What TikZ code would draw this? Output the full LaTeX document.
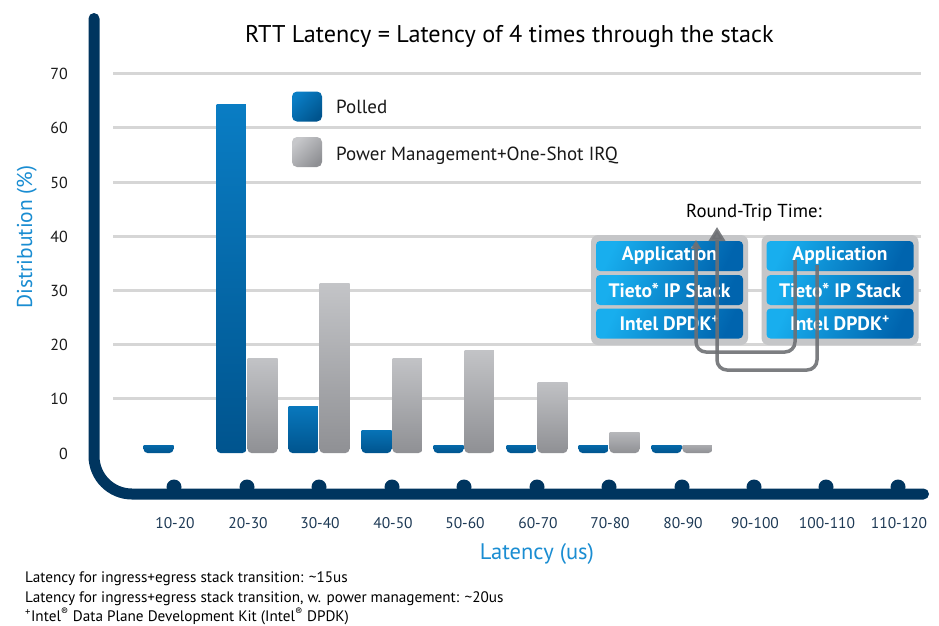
\documentclass[tikz,border=0pt]{standalone}
\usepackage{fontspec}
\setmainfont{PT Sans}
\usetikzlibrary{arrows.meta}
\definecolor{navy}{HTML}{00355F}
\definecolor{gridc}{HTML}{D6D6D6}
\definecolor{pbtop}{HTML}{0A7EC5}
\definecolor{pbbot}{HTML}{00548E}
\definecolor{gbtop}{HTML}{C6C7CA}
\definecolor{gbbot}{HTML}{8F9094}
\definecolor{lblue}{HTML}{1A8DD2}
\definecolor{xlabc}{HTML}{1E3A56}
\definecolor{numc}{HTML}{1A1A1A}
\definecolor{sbox}{HTML}{C5C6C8}
\definecolor{stop}{HTML}{18AEEE}
\definecolor{sbot}{HTML}{0064AE}
\definecolor{arrc}{HTML}{6E7074}
\newcommand\polledbar[2]{%
  \begin{scope}
    \clip (#1-30.5,#2) rectangle (#1-0.5,454);
    \shade[top color=pbtop,bottom color=pbbot,rounded corners=4pt] (#1-30.5,#2-8) rectangle (#1-0.5,453);
  \end{scope}}
\newcommand\graybar[2]{%
  \begin{scope}
    \clip (#1+0.5,#2) rectangle (#1+30.5,454);
    \shade[top color=gbtop,bottom color=gbbot,rounded corners=4pt] (#1+0.5,#2-8) rectangle (#1+30.5,453);
  \end{scope}}
\begin{document}
\begin{tikzpicture}[x=1pt,y=-1pt,
  ylab/.style={anchor=base east, inner sep=0, text=numc, font=\fontsize{16}{16}\selectfont},
  xlab/.style={anchor=base, inner sep=0, text=xlabc, font=\fontsize{15.5}{15.5}\selectfont},
  axtitle/.style={inner sep=0, text=lblue},
  foot/.style={anchor=base west, inner sep=0, text=black, font=\fontsize{15.2}{15.2}\selectfont},
  legtext/.style={anchor=base west, inner sep=0, text=black!90, font=\fontsize{19}{19}\selectfont},
  legsq/.style={minimum width=30, minimum height=30, inner sep=0, rounded corners=5pt},
  outerbox/.style={fill=sbox, rounded corners=7pt, minimum width=157, minimum height=110, inner sep=0},
  stackbox/.style={top color=stop, bottom color=sbot, shading angle=65, rounded corners=4pt,
    minimum width=147, minimum height=30, inner sep=0, text=white, font=\bfseries\fontsize{19.5}{19.5}\selectfont},
  rtt/.style={draw=arrc, line width=3.5pt, rounded corners=10pt, opacity=0.9}
]
\useasboundingbox (0,0) rectangle (939,625);
\fill[white] (0,0) rectangle (939,625);

% grid lines
\foreach \k in {1,...,7}{
  \draw[gridc, line width=3pt] (113,453-54.2*\k) -- (921,453-54.2*\k);
}
% y labels
\foreach \k in {0,...,7}{
  \node[ylab] (y\k) at (68,459-54.2*\k) {\pgfmathparse{int(10*\k)}\pgfmathresult};
}

% axes
\draw[navy, line width=11pt, line cap=round, rounded corners=38pt] (94,18.5) -- (94,494) -- (923.5,494);
\foreach \x in {174,247,319,392,464,537,609,682,754,826,898}{
  \fill[navy] (\x,487) circle (7.5);
}

% x labels
\foreach \x/\t [count=\i] in {174/10-20,247/20-30,319/30-40,392/40-50,464/50-60,537/60-70,609/70-80,682/80-90,754/90-100,826/100-110,898/110-120}{
  \node[xlab] (x\i) at (\x+1,528) {\t};
}

% bars
\polledbar{174}{445}
\polledbar{247}{104}
\polledbar{319}{406}
\polledbar{392}{430}
\polledbar{464}{445}
\polledbar{537}{445}
\polledbar{609}{445}
\polledbar{682}{445}
\graybar{247}{358}
\graybar{319}{283}
\graybar{392}{358}
\graybar{464}{350}
\graybar{537}{382}
\graybar{609}{432}
\graybar{682}{445}

% title
\node[anchor=base west, inner sep=0, font=\fontsize{24.2}{24.2}\selectfont] (title) at (245,42) {RTT Latency = Latency of 4 times through the stack};

% legend
\node[legsq, top color=pbtop, bottom color=pbbot, shading angle=45] (legP) at (307,106.5) {};
\node[legsq, top color=gbtop, bottom color=gbbot, shading angle=45] (legG) at (307,152) {};
\node[legtext] (legPt) at (336,113) {Polled};
\node[legtext] (legGt) at (336,160) {Power Management+One-Shot IRQ};

% axis titles
\node[axtitle, anchor=base, rotate=90, font=\fontsize{21.5}{21.5}\selectfont] (ytitle) at (32,237) {Distribution (\%)};
\node[axtitle, anchor=base, font=\fontsize{22.5}{22.5}\selectfont] (xtitle) at (537,559) {Latency (us)};

% footnotes
\node[foot] (f1) at (25,582) {Latency for ingress+egress stack transition: \textasciitilde15us};
\node[foot] (f2) at (25,602) {Latency for ingress+egress stack transition, w. power management: \textasciitilde20us};
\node[foot] (f3) at (25,621) {\textsuperscript{+}Intel\textsuperscript{®} Data Plane Development Kit (Intel\textsuperscript{®} DPDK)};

% stacks
\node[anchor=base, inner sep=0, font=\fontsize{18.8}{18.8}\selectfont] (rttlabel) at (754,217) {Round-Trip Time:};
\node[outerbox] (lstack) at (669.5,290) {};
\node[outerbox] (rstack) at (840,290) {};
\node[stackbox] (lapp) at (669.5,256) {Application};
\node[stackbox] (lip) at (669.5,290) {Tieto* IP Stack};
\node[stackbox] (ldp) at (669.5,323.5) {Intel DPDK\textsuperscript{+}};
\node[stackbox] (rapp) at (840,256) {Application};
\node[stackbox] (rip) at (840,290) {Tieto* IP Stack};
\node[stackbox] (rdp) at (840,323.5) {Intel DPDK\textsuperscript{+}};

% round trip arrows
\coordinate (inS) at (795,260);
\coordinate (inB) at (795,352);
\coordinate (inL) at (696,352);
\coordinate (inE) at (696,240);
\coordinate (outS) at (817,265);
\coordinate (outB) at (817,370);
\coordinate (outL) at (717,370);
\coordinate (outE) at (717,227);
\draw[rtt, -{Triangle[width=10pt,length=9pt]}] (inS) -- (inB) -- (inL) -- (inE);
\draw[rtt, -{Triangle[width=16pt,length=14pt]}] (outS) -- (outB) -- (outL) -- (outE);
\end{tikzpicture}
\end{document}
